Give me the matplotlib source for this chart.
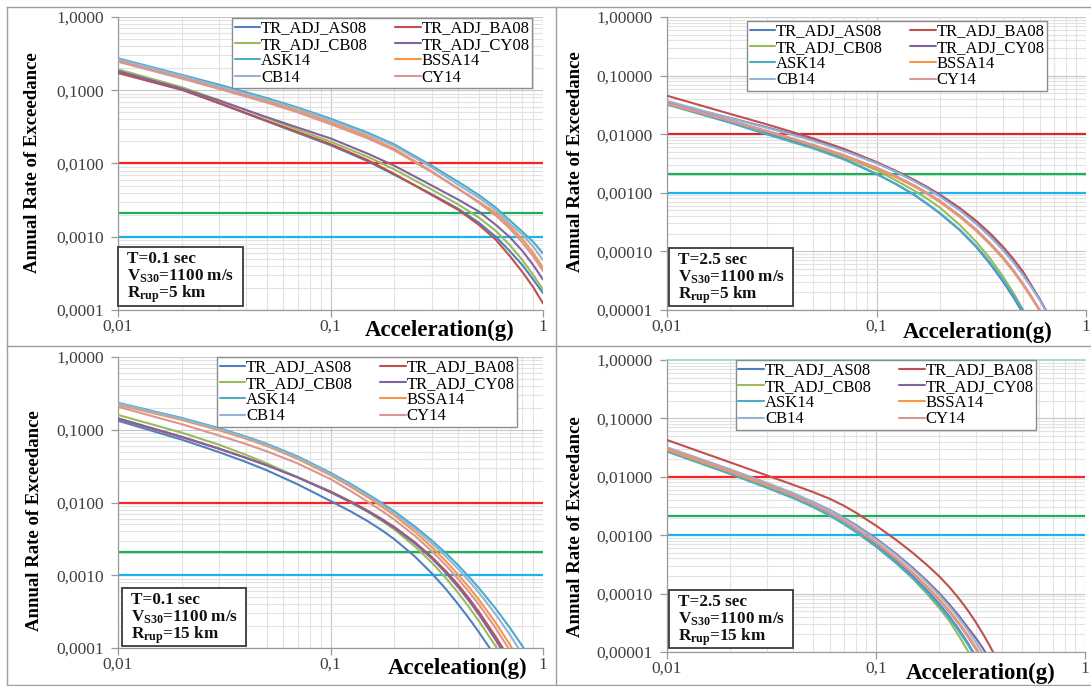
import numpy as np
import matplotlib
matplotlib.use("Agg")
import matplotlib.pyplot as plt
from matplotlib.ticker import LogLocator, NullFormatter, FuncFormatter
from matplotlib.lines import Line2D
from matplotlib.patches import Rectangle

plt.rcParams["font.family"] = ["Liberation Serif", "DejaVu Serif"]
plt.rcParams["mathtext.fontset"] = "custom"
plt.rcParams["mathtext.rm"] = "Liberation Serif:bold"
plt.rcParams["mathtext.it"] = "Liberation Serif:bold"
plt.rcParams["mathtext.bf"] = "Liberation Serif:bold"

W, H = 1091, 686
nan = np.nan

# ground-motion models, legend order and colours
models = ["TR_ADJ_AS08", "TR_ADJ_BA08", "TR_ADJ_CB08", "TR_ADJ_CY08",
          "ASK14", "BSSA14", "CB14", "CY14"]
model_colors = ["#4F81BD", "#C0504D", "#9BBB59", "#8064A2",
                "#4BACC6", "#F79646", "#95B3D7", "#D99694"]

# design hazard levels (annual rate)
hazard_levels = [0.01, 0.0021, 0.001]

# ---- T=0.1 s, Rrup=5 km ----
acc_t01_r5 = [0.01, 0.02, 0.03, 0.05, 0.07, 0.1, 0.15, 0.2, 0.3, 0.4, 0.5, 0.6, 0.7, 0.8, 0.9, 1.0]
t01_r5_AS08 = [0.174, 0.102, 0.066, 0.0378, 0.0262, 0.0178, 0.0107, 0.0070, 0.0038, 0.0024, 0.00155, 0.0010, 0.00063, 0.00041, 0.00026, 0.00017]
t01_r5_BA08 = [0.172, 0.101, 0.067, 0.0385, 0.027, 0.0184, 0.0111, 0.0072, 0.0037, 0.00232, 0.00145, 0.00091, 0.00054, 0.00033, 0.000204, 0.000123]
t01_r5_CB08 = [0.193, 0.11, 0.073, 0.042, 0.029, 0.0199, 0.0123, 0.0083, 0.0044, 0.00275, 0.00182, 0.0012, 0.00076, 0.00048, 0.0003, 0.00019]
t01_r5_CY08 = [0.183, 0.105, 0.072, 0.043, 0.031, 0.022, 0.0136, 0.0093, 0.0050, 0.0032, 0.0022, 0.00145, 0.00098, 0.00064, 0.00041, 0.00026]
t01_r5_ASK14 = [0.273, 0.162, 0.119, 0.0785, 0.0582, 0.041, 0.0263, 0.0182, 0.0093, 0.0056, 0.0037, 0.0025, 0.00166, 0.00117, 0.00085, 0.00059]
t01_r5_BSSA14 = [0.253, 0.15, 0.108, 0.071, 0.053, 0.0365, 0.0233, 0.0158, 0.0078, 0.0045, 0.0030, 0.0021, 0.00138, 0.00093, 0.0006, 0.00038]
t01_r5_CB14 = [0.265, 0.157, 0.113, 0.075, 0.056, 0.039, 0.025, 0.0173, 0.0088, 0.0051, 0.0034, 0.0023, 0.0015, 0.00107, 0.00073, 0.00048]
t01_r5_CY14 = [0.245, 0.144, 0.104, 0.068, 0.05, 0.0345, 0.022, 0.0151, 0.0076, 0.0045, 0.0029, 0.00195, 0.00128, 0.00083, 0.00054, 0.00034]

# ---- T=2.5 s, Rrup=5 km ----
acc_t25_r5 = [0.01, 0.02, 0.03, 0.04, 0.05, 0.07, 0.1, 0.125, 0.15, 0.175, 0.2, 0.25, 0.3, 0.35, 0.4, 0.45, 0.5, 0.55, 0.6, 0.65, 0.7]
t25_r5_AS08 = [0.036, 0.0172, 0.0107, 0.0077, 0.006, 0.0038, 0.0021, 0.00138, 0.00094, 0.00064, 0.00045, 0.00023, 0.000118, 0.00006, 0.0000312, 0.0000165, 0.0000088, 0.0000048, nan, nan, nan]
t25_r5_BA08 = [0.0454, 0.0222, 0.0147, 0.0108, 0.00847, 0.00562, 0.00335, 0.00233, 0.00169, 0.00125, 0.00094, 0.00055, 0.00033, 0.0002, 0.000122, 0.0000745, 0.0000453, 0.000026, 0.0000155, 0.0000092, 0.0000054]
t25_r5_CB08 = [0.034, 0.017, 0.0111, 0.0081, 0.00625, 0.0041, 0.00245, 0.0016, 0.00111, 0.000787, 0.000564, 0.000282, 0.000144, 0.0000741, 0.000038, 0.0000197, 0.0000102, 0.0000054, nan, nan, nan]
t25_r5_CY08 = [0.035, 0.019, 0.0131, 0.00993, 0.00785, 0.00528, 0.00323, 0.00226, 0.00163, 0.0012, 0.00089, 0.00051, 0.0003, 0.000181, 0.00011, 0.000067, 0.0000407, 0.0000249, 0.0000153, 0.0000093, 0.0000057]
t25_r5_ASK14 = [0.032, 0.0157, 0.0099, 0.00726, 0.0057, 0.0037, 0.0021, 0.00139, 0.00095, 0.00065, 0.000458, 0.000234, 0.000122, 0.0000634, 0.0000334, 0.0000179, 0.0000097, 0.0000054, nan, nan, nan]
t25_r5_BSSA14 = [0.033, 0.0169, 0.0112, 0.0082, 0.0064, 0.0042, 0.00258, 0.00181, 0.0013, 0.00095, 0.0007, 0.000387, 0.000222, 0.000129, 0.0000764, 0.0000453, 0.0000268, 0.000016, 0.0000097, nan, nan]
t25_r5_CB14 = [0.037, 0.0188, 0.0128, 0.0097, 0.0077, 0.0052, 0.0032, 0.00223, 0.0016, 0.00118, 0.00087, 0.0005, 0.000293, 0.000176, 0.000107, 0.0000652, 0.0000396, 0.0000242, 0.0000148, 0.000009, 0.0000055]
t25_r5_CY14 = [0.034, 0.0172, 0.0114, 0.0084, 0.0066, 0.0044, 0.0027, 0.0019, 0.00137, 0.001, 0.00074, 0.00041, 0.000236, 0.000137, 0.0000812, 0.0000482, 0.0000285, 0.000017, 0.0000102, 0.0000062, nan]

# ---- T=0.1 s, Rrup=15 km ----
acc_t01_r15 = [0.01, 0.02, 0.03, 0.04, 0.05, 0.07, 0.1, 0.125, 0.15, 0.175, 0.2, 0.25, 0.3, 0.35, 0.4, 0.45, 0.5, 0.6, 0.7, 0.8, 0.9]
t01_r15_AS08 = [0.133, 0.073, 0.049, 0.0361, 0.0278, 0.0178, 0.0105, 0.00748, 0.00552, 0.00413, 0.00312, 0.0018, 0.00106, 0.00064, 0.000395, 0.000252, 0.000164, 0.000075, nan, nan, nan]
t01_r15_BA08 = [0.141, 0.079, 0.0545, 0.041, 0.0326, 0.0223, 0.0142, 0.0103, 0.0077, 0.0059, 0.0046, 0.00283, 0.00178, 0.00113, 0.00073, 0.000475, 0.000312, 0.000142, 0.000069, nan, nan]
t01_r15_CB08 = [0.16, 0.091, 0.062, 0.0452, 0.0346, 0.0223, 0.0138, 0.01, 0.0074, 0.00557, 0.00424, 0.00248, 0.00149, 0.00091, 0.000566, 0.00036, 0.000233, 0.000105, 0.00005, nan, nan]
t01_r15_CY08 = [0.144, 0.08, 0.055, 0.0412, 0.0326, 0.0221, 0.0139, 0.01005, 0.00751, 0.00574, 0.00446, 0.00273, 0.0017, 0.00107, 0.00068, 0.000439, 0.000286, 0.000128, 0.000061, nan, nan]
t01_r15_ASK14 = [0.235, 0.145, 0.105, 0.0805, 0.0644, 0.043, 0.0256, 0.0179, 0.013, 0.00977, 0.00753, 0.00466, 0.003, 0.002, 0.00136, 0.00094, 0.000664, 0.000345, 0.000188, 0.000106, 0.0000627]
t01_r15_BSSA14 = [0.22, 0.136, 0.098, 0.0752, 0.06, 0.0398, 0.0237, 0.0163, 0.01175, 0.0087, 0.00664, 0.00394, 0.00243, 0.00155, 0.00101, 0.000676, 0.000459, 0.000221, 0.00011, 0.0000562, nan]
t01_r15_CB14 = [0.23, 0.141, 0.102, 0.0783, 0.0625, 0.0416, 0.0247, 0.01714, 0.0124, 0.00927, 0.00711, 0.00432, 0.00274, 0.0018, 0.00121, 0.000826, 0.000574, 0.000288, 0.000151, 0.0000813, nan]
t01_r15_CY14 = [0.207, 0.119, 0.083, 0.0637, 0.0507, 0.0345, 0.021, 0.0143, 0.0102, 0.00762, 0.00581, 0.00347, 0.00214, 0.00136, 0.00088, 0.000582, 0.000394, 0.000186, 0.0000912, nan, nan]

# ---- T=2.5 s, Rrup=15 km ----
acc_t25_r15 = [0.01, 0.02, 0.03, 0.04, 0.05, 0.06, 0.07, 0.08, 0.1, 0.125, 0.15, 0.175, 0.2, 0.225, 0.25, 0.275, 0.3, 0.325, 0.35, 0.375, 0.4]
t25_r15_AS08 = [0.030, 0.0124, 0.0072, 0.0047, 0.0033, 0.00235, 0.0017, 0.00124, 0.0007, 0.000365, 0.0002, 0.000114, 0.0000675, 0.0000402, 0.0000239, 0.0000143, 0.0000085, nan, nan, nan, nan]
t25_r15_BA08 = [0.0427, 0.0177, 0.0106, 0.00733, 0.00548, 0.00421, 0.00321, 0.00244, 0.00146, 0.000828, 0.000498, 0.000311, 0.0002, 0.000128, 0.0000813, 0.0000516, 0.0000325, 0.0000204, 0.0000128, 0.000008, 0.000005]
t25_r15_CB08 = [0.029, 0.012, 0.0069, 0.0045, 0.0031, 0.0022, 0.00158, 0.00115, 0.00064, 0.00033, 0.00018, 0.0001, 0.0000575, 0.0000335, 0.0000185, 0.0000104, 0.0000058, nan, nan, nan, nan]
t25_r15_CY08 = [0.030, 0.0127, 0.0075, 0.0051, 0.0037, 0.00272, 0.002, 0.0015, 0.00088, 0.000478, 0.000276, 0.000166, 0.000103, 0.0000648, 0.0000411, 0.0000262, 0.0000175, 0.0000115, 0.0000075, 0.0000047, nan]
t25_r15_ASK14 = [0.027, 0.0112, 0.0065, 0.00433, 0.00303, 0.00216, 0.00156, 0.00114, 0.00064, 0.000335, 0.000185, 0.000106, 0.0000628, 0.0000375, 0.0000223, 0.0000134, 0.000008, nan, nan, nan, nan]
t25_r15_BSSA14 = [0.029, 0.0122, 0.0072, 0.0048, 0.0034, 0.00245, 0.00178, 0.00131, 0.00076, 0.000405, 0.000229, 0.000135, 0.000082, 0.0000505, 0.0000313, 0.0000195, 0.0000121, 0.0000075, nan, nan, nan]
t25_r15_CB14 = [0.032, 0.0135, 0.0079, 0.0053, 0.0037, 0.00268, 0.00196, 0.00145, 0.00085, 0.000458, 0.000262, 0.000156, 0.0000955, 0.0000595, 0.0000373, 0.0000235, 0.0000148, 0.0000093, 0.0000058, nan, nan]
t25_r15_CY14 = [0.031, 0.0128, 0.0074, 0.0049, 0.0034, 0.00244, 0.00176, 0.00129, 0.00074, 0.00039, 0.00022, 0.000128, 0.0000775, 0.0000474, 0.0000292, 0.0000181, 0.0000112, 0.0000069, nan, nan, nan]

panels = [
    dict(acc=acc_t01_r5,
         curves=[t01_r5_AS08, t01_r5_BA08, t01_r5_CB08, t01_r5_CY08,
                 t01_r5_ASK14, t01_r5_BSSA14, t01_r5_CB14, t01_r5_CY14],
         box=(118, 543, 17, 310), ymin=1e-4, ydec=4, red="#FF2020",
         legend=(232, 18, 538, 85), note=(118, 247, 243, 306),
         period="T=0.1 sec", rrup="5 km", xlabel="Acceleration(g)",
         xlab_pos=(440, 330), ylab_pos=(33, 163)),
    dict(acc=acc_t25_r5,
         curves=[t25_r5_AS08, t25_r5_BA08, t25_r5_CB08, t25_r5_CY08,
                 t25_r5_ASK14, t25_r5_BSSA14, t25_r5_CB14, t25_r5_CY14],
         box=(667, 1086, 17, 310), ymin=1e-5, ydec=5, red="#D42A2A",
         legend=(747, 21, 1083, 83), note=(669, 248, 793, 306),
         period="T=2.5 sec", rrup="5 km", xlabel="Acceleration(g)",
         xlab_pos=(978, 332), ylab_pos=(576, 162)),
    dict(acc=acc_t01_r15,
         curves=[t01_r15_AS08, t01_r15_BA08, t01_r15_CB08, t01_r15_CY08,
                 t01_r15_ASK14, t01_r15_BSSA14, t01_r15_CB14, t01_r15_CY14],
         box=(118, 543, 357, 648), ymin=1e-4, ydec=4, red="#FF2020",
         legend=(217, 357, 542, 418), note=(122, 588, 246, 646),
         period="T=0.1 sec", rrup="15 km", xlabel="Acceleation(g)",
         xlab_pos=(458, 668), ylab_pos=(35, 521)),
    dict(acc=acc_t25_r15,
         curves=[t25_r15_AS08, t25_r15_BA08, t25_r15_CB08, t25_r15_CY08,
                 t25_r15_ASK14, t25_r15_BSSA14, t25_r15_CB14, t25_r15_CY14],
         box=(667, 1085, 360, 652), ymin=1e-5, ydec=5, red="#FF2020",
         legend=(736, 360, 1086, 425), note=(669, 590, 793, 648),
         period="T=2.5 sec", rrup="15 km", xlabel="Acceleration(g)",
         xlab_pos=(981, 673), ylab_pos=(575, 527)),
]

fig = plt.figure(figsize=(W / 100, H / 100), dpi=100)


def fx(x):
    return x / W


def fy(y):
    return 1 - y / H


legend_order = [0, 2, 4, 6, 1, 3, 5, 7]

for p in panels:
    x0, x1, y0, y1 = p["box"]
    ax = fig.add_axes([fx(x0), fy(y1), (x1 - x0) / W, (y1 - y0) / H])
    ax.set_xscale("log")
    ax.set_yscale("log")
    ax.set_xlim(0.01, 1)
    ax.set_ylim(p["ymin"], 1)

    handles = []
    for vals, name, col in zip(p["curves"], models, model_colors):
        ln, = ax.plot(p["acc"], vals, color=col, lw=1.5, label=name,
                      solid_joinstyle="round", solid_capstyle="round", zorder=3)
        handles.append(ln)

    ax.axhline(hazard_levels[0], color=p["red"], lw=1.6, zorder=2)
    ax.axhline(hazard_levels[1], color="#1DB05A", lw=1.6, zorder=2)
    ax.axhline(hazard_levels[2], color="#19B4F0", lw=1.6, zorder=2)

    ax.xaxis.set_major_locator(LogLocator(base=10, numticks=10))
    ax.xaxis.set_minor_locator(LogLocator(base=10, subs=np.arange(2, 10), numticks=10))
    ax.yaxis.set_major_locator(LogLocator(base=10, numticks=10))
    ax.yaxis.set_minor_locator(LogLocator(base=10, subs=np.arange(2, 10), numticks=10))
    ax.xaxis.set_minor_formatter(NullFormatter())
    ax.yaxis.set_minor_formatter(NullFormatter())
    ax.xaxis.set_major_formatter(FuncFormatter(
        lambda v, pos: ("%g" % v).replace(".", ",")))
    nd = p["ydec"]
    ax.yaxis.set_major_formatter(FuncFormatter(
        lambda v, pos, nd=nd: ("%.*f" % (nd, v)).replace(".", ",")))

    ax.grid(True, which="major", color="#C6C6C6", lw=0.8)
    ax.grid(True, which="minor", color="#E2E2E2", lw=0.8)
    ax.set_axisbelow(True)
    for s in ("top", "right"):
        ax.spines[s].set_visible(False)
    for s in ("left", "bottom"):
        ax.spines[s].set_color("#9A9A9A")
        ax.spines[s].set_linewidth(0.9)
    ax.tick_params(which="major", direction="out", length=5, width=0.9,
                   color="#9A9A9A", labelsize=12.5, labelcolor="#404040")
    ax.tick_params(axis="x", which="major", pad=1.5)
    ax.tick_params(axis="y", which="major", pad=5)
    ax.tick_params(which="minor", length=0)

    # legend
    lx0, ly0, lx1, ly1 = p["legend"]
    leg = ax.legend([handles[i] for i in legend_order],
                    [models[i] for i in legend_order],
                    ncol=2, loc="upper left",
                    bbox_to_anchor=(fx(lx0), fy(ly0)),
                    bbox_transform=fig.transFigure, borderaxespad=0,
                    fontsize=12, frameon=True, fancybox=False,
                    edgecolor="#8C8C8C", framealpha=1, borderpad=0.15,
                    labelspacing=0.02, handlelength=1.55, handletextpad=0.05,
                    columnspacing=1.6)
    leg.get_frame().set_linewidth(1.0)
    leg.set_zorder(5)

    # annotation box
    nx0, ny0, nx1, ny1 = p["note"]
    fig.add_artist(Rectangle((fx(nx0), fy(ny1)), (nx1 - nx0) / W, (ny1 - ny0) / H,
                             transform=fig.transFigure, facecolor="white",
                             edgecolor="#3A3A3A", lw=1.3, zorder=6))
    lines = [p["period"], r"V$_{S30}$=1100 m/s", r"R$_{rup}$=" + p["rrup"]]
    for k, t in enumerate(lines):
        fig.text(fx(nx0 + 9), fy(ny0 + 12 + 17.5 * k), t, fontsize=12.3,
                 fontweight="bold", ha="left", va="center", zorder=7,
                 color="#111111")

    # axis titles
    fig.text(fx(p["xlab_pos"][0]), fy(p["xlab_pos"][1]), p["xlabel"],
             fontsize=16.5, fontweight="bold", ha="center", va="center")
    fig.text(fx(p["ylab_pos"][0]), fy(p["ylab_pos"][1]),
             "Annual Rate of Exceedance", fontsize=13.5, fontweight="bold",
             rotation=90, ha="center", va="center")

# thin light line along the top of the last panel
ax.axhline(1.0, color="#A6E0C2", lw=1.4, clip_on=False, zorder=2)

# panel frames
frame_col = "#9E9E9E"
for (xa, ya, xb, yb) in [(7, 7, W, 7), (7, 7, 7, 685), (7, 685, W, 685),
                         (7, 346, W, 346), (556, 7, 556, 685)]:
    fig.add_artist(Line2D([fx(xa), fx(xb)], [fy(ya), fy(yb)],
                          transform=fig.transFigure, color=frame_col, lw=1.0))

fig.savefig("out.png", dpi=100, facecolor="white")
